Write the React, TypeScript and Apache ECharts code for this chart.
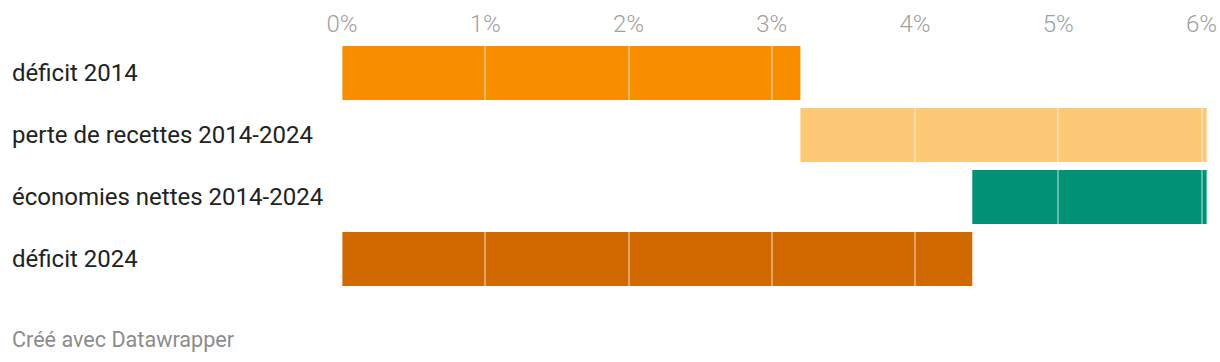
import React, { useEffect, useRef } from "react";
import * as echarts from "echarts";

const categories = [
  "déficit 2014",
  "perte de recettes 2014-2024",
  "économies nettes 2014-2024",
  "déficit 2024",
];
// start of each floating bar (in % of GDP)
const barStart = [0, 3.2, 4.4, 0];
// length of each floating bar
const barLength = [3.2, 2.84, 1.64, 4.4];
const barColors = ["#f98d00", "#fdc977", "#009177", "#d06900"];
const tickValues = [0, 1, 2, 3, 4, 5, 6];
const axisMax = 6.04;

export default function App() {
  const ref = useRef<HTMLDivElement>(null);
  useEffect(() => {
    if (!ref.current) return;
    const chart = echarts.init(ref.current, undefined, { renderer: "svg" });
    chart.setOption({
      animation: false,
      textStyle: { fontFamily: "Roboto" },
      grid: { left: 342, right: 12, top: 42, height: 248 },
      xAxis: {
        type: "value",
        position: "top",
        min: 0,
        max: axisMax,
        interval: 1,
        z: 5,
        axisLine: { show: false },
        axisTick: { show: false },
        axisLabel: {
          show: true,
          margin: 6,
          color: "#a0a0a0",
          fontSize: 24,
          fontWeight: 300,
          fontFamily: "Roboto",
          alignMaxLabel: "right",
          formatter: (v: number) => (tickValues.includes(v) ? `${v}%` : ""),
        },
        splitLine: {
          show: true,
          lineStyle: { color: "rgba(255,255,255,0.38)", width: 2 },
        },
      },
      yAxis: {
        type: "category",
        data: categories,
        inverse: true,
        axisLine: { show: false },
        axisTick: { show: false },
        splitLine: { show: false },
        axisLabel: {
          align: "left",
          margin: 330,
          color: "#222222",
          fontSize: 24,
          fontFamily: "Roboto",
        },
      },
      series: [
        {
          type: "bar",
          stack: "w",
          silent: true,
          barWidth: 54,
          itemStyle: { color: "transparent" },
          data: barStart,
        },
        {
          type: "bar",
          stack: "w",
          barWidth: 54,
          data: barLength.map((v, i) => ({
            value: v,
            itemStyle: { color: barColors[i] },
          })),
        },
      ],
      graphic: [
        {
          type: "text",
          left: 12,
          top: 328,
          style: {
            text: "Créé avec Datawrapper",
            fill: "#8c8c8c",
            fontSize: 21.6,
            fontFamily: "Roboto",
          },
        },
      ],
    });
    return () => chart.dispose();
  }, []);
  return (
    <div
      ref={ref}
      style={{ position: "absolute", left: 0, top: 0, width: 1220, height: 362 }}
    />
  );
}
